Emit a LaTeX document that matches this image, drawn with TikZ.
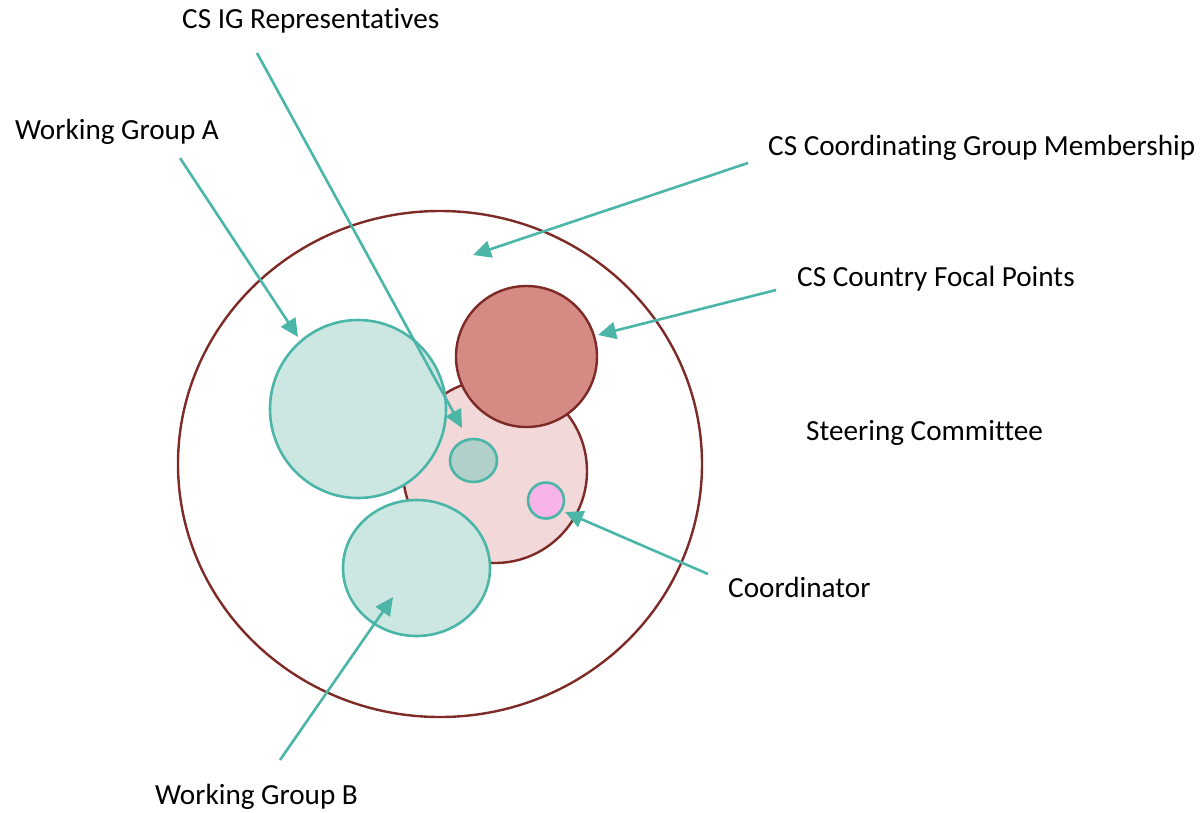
\documentclass[tikz,border=0pt]{standalone}
\usepackage{fontspec}
\setmainfont{Carlito}[Ligatures={NoCommon}]
\usetikzlibrary{arrows.meta}
\definecolor{my teal}{HTML}{4BB5A8}
\definecolor{my mint}{HTML}{CCE7E2}
\definecolor{my sage}{HTML}{B0D0C9}
\definecolor{my red}{HTML}{7E2A26}
\definecolor{my rose}{HTML}{D68A84}
\definecolor{my blush}{HTML}{F2D8D8}
\definecolor{my pink}{HTML}{F8B4E6}
\tikzset{
  teal ring/.style={line width=2.6pt, draw=my teal},
  red ring/.style={line width=2.4pt, draw=my red},
  pointer/.style={line width=2.6pt, my teal, -{Triangle[length=18pt,width=17pt]}},
  label/.style={anchor=base west, inner sep=0pt, font=\fontsize{29.2}{33}\selectfont}
}
\begin{document}
\begin{tikzpicture}[x=1pt, y=-1pt]
                \useasboundingbox (0, 0) rectangle (1203, 812);
                \draw [red ring] (440, 464) circle [x radius = 262, y radius = 253];
                \draw [red ring, fill=my blush] (495, 471) circle [radius = 92];
                \draw [teal ring, fill=my mint] (358, 409) circle [x radius = 88, y radius = 89];
                \draw [red ring, fill=my rose] (526.5, 356.5) circle [radius = 70.5];
                \draw [teal ring, fill=my mint] (416.5, 568) circle [x radius = 73.5, y radius = 68];
                \draw [teal ring, fill=my sage] (473.5, 460.5) circle [x radius = 23.5, y radius = 21.5];
                \draw [teal ring, fill=my pink] (546, 500.5) circle [radius = 18];
                % labels
                \node [label] (rep) at (182, 28) {CS IG Representatives};
                \node [label] (wga) at (15, 139) {Working Group A};
                \node [label] (cgm) at (768, 155) {CS Coordinating Group Membership};
                \node [label] (cfp) at (797, 286) {CS Country Focal Points};
                \node [label] (sc) at (806, 440) {Steering Committee};
                \node [label] (coord) at (728, 597) {Coordinator};
                \node [label] (wgb) at (155, 804) {Working Group B};
                % pointer ends
                \coordinate (rep s) at (257, 53);
                \coordinate (rep e) at (462, 428);
                \coordinate (wga s) at (180, 158);
                \coordinate (wga e) at (298, 337);
                \coordinate (cgm s) at (748, 163);
                \coordinate (cgm e) at (473, 255);
                \coordinate (cfp s) at (776, 290);
                \coordinate (cfp e) at (598, 335);
                \coordinate (coord s) at (708, 574);
                \coordinate (coord e) at (565, 512);
                \coordinate (wgb s) at (280, 760);
                \coordinate (wgb e) at (393, 597);
                \foreach \p in {rep, wga, cgm, cfp, coord, wgb}
                    \draw [pointer] (\p\space s) -- (\p\space e);
\end{tikzpicture}
\end{document}
